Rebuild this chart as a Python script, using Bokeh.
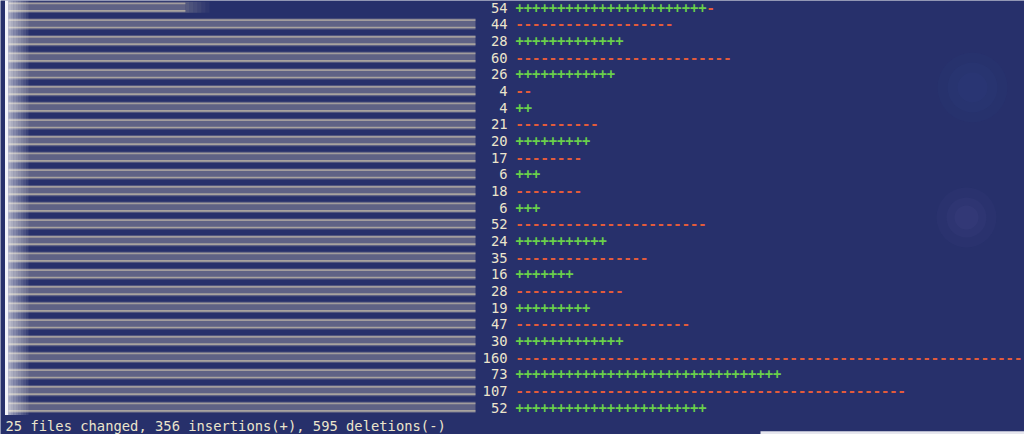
from bokeh.plotting import figure
from bokeh.models import Range1d, ColumnDataSource
from bokeh.core.properties import value
from bokeh.embed import file_html
from bokeh.resources import INLINE

# ---- data (git diff --stat) ----
insertions = [52, 0, 28, 0, 26, 0, 4, 0, 20, 0, 6, 0, 6, 0, 24, 0, 16, 0, 19, 0, 30, 0, 73, 0, 52]
deletions = [2, 44, 0, 60, 0, 4, 0, 21, 0, 17, 0, 18, 0, 52, 0, 35, 0, 28, 0, 47, 0, 160, 0, 107, 0]
plus_marks = [23, 0, 13, 0, 12, 0, 2, 0, 9, 0, 3, 0, 3, 0, 11, 0, 7, 0, 9, 0, 13, 0, 32, 0, 23]
# marks visible in the window (the 160-line row runs to the right edge)
minus_marks = [1, 19, 0, 26, 0, 2, 0, 10, 0, 8, 0, 8, 0, 23, 0, 16, 0, 13, 0, 21, 0, 61, 0, 47, 0]
name_extent = [185] + [475] * 24   # blurred file-name column extent

n_files = len(insertions)
changes = [a + b for a, b in zip(insertions, deletions)]
rows = list(range(n_files))

# ---- style ----
BG = "#27306b"
FONT = value("DejaVu Sans Mono")
FSIZE = "13.8px"
NUM_COLOR = "#ece5cc"
PLUS_COLOR = "#6ad04a"
MINUS_COLOR = "#e35b3a"
NUM_RIGHT = 507
MARK_LEFT = 515
NBSP = "\u00a0"

p = figure(width=1024, height=434, output_backend="svg", toolbar_location=None,
           x_range=Range1d(0, 1024), y_range=Range1d(25.62, -0.42),
           min_border=0, background_fill_color=BG, border_fill_color=BG)
p.axis.visible = False
p.grid.visible = False
p.outline_line_color = None

# soft glows on the right
for r, a in [(70, 0.06), (50, 0.07), (30, 0.08)]:
    p.scatter([972], [4.8], size=r, color="#3b4f96", alpha=a, line_color=None)
for r, a in [(60, 0.05), (40, 0.07), (24, 0.08)]:
    p.scatter([966], [12.6], size=r, color="#6a6aa8", alpha=a, line_color=None)

# blurred file names
band = ColumnDataSource(dict(
    left=[8] * n_files, right=name_extent,
    top=[r - 0.34 for r in rows], bottom=[r + 0.32 for r in rows]))
p.quad(left="left", right="right", top="top", bottom="bottom", source=band,
       fill_color="#8e8d9a", fill_alpha=0.55, line_color=None)
for off, a in [(-0.24, 0.55), (0.2, 0.6)]:
    p.segment(x0=[8] * n_files, x1=name_extent, y0=[r + off for r in rows],
              y1=[r + off for r in rows], line_color="#d8ceb0", line_alpha=a, line_width=1.6)
# fade at the end of the first (shorter) name
for k in range(6):
    x0 = name_extent[0] + k * 4
    p.quad(left=x0, right=x0 + 4, top=-0.34, bottom=0.32,
           fill_color="#8e8d9a", fill_alpha=0.45 - k * 0.075, line_color=None)
# left edge glow
for k in range(8):
    p.quad(left=8 + k * 2.5, right=10.5 + k * 2.5, top=-0.45, bottom=24.45,
           fill_color="#ffffff", fill_alpha=0.55 - k * 0.065, line_color=None)
p.quad(left=4.5, right=8, top=-0.45, bottom=24.45, fill_color="#f2f2f8", line_color=None)

# change counts
p.text(x=[NUM_RIGHT] * n_files, y=rows, text=[str(c) for c in changes],
       text_font=FONT, text_font_size=FSIZE, text_color=NUM_COLOR,
       text_align="right", text_baseline="middle")

# +/- histogram marks
p.text(x=[MARK_LEFT] * n_files, y=rows, text=["+" * n for n in plus_marks],
       text_font=FONT, text_font_size=FSIZE, text_font_style="bold", text_color=PLUS_COLOR,
       text_align="left", text_baseline="middle")
p.text(x=[MARK_LEFT] * n_files, y=rows,
       text=[NBSP * a + "-" * b for a, b in zip(plus_marks, minus_marks)],
       text_font=FONT, text_font_size=FSIZE, text_font_style="bold", text_color=MINUS_COLOR,
       text_align="left", text_baseline="middle")

# summary line
summary = f"{n_files} files changed, {sum(insertions)} insertions(+), {sum(deletions)} deletions(-)"
p.text(x=[5], y=[n_files + 0.08], text=[summary], text_font=FONT, text_font_size=FSIZE,
       text_color=NUM_COLOR, text_align="left", text_baseline="middle")

# light strip bottom right
p.quad(left=760, right=1024, top=25.42, bottom=25.62, fill_color="#e6e6ee", line_color=None)

open("out.html", "w").write(file_html(p, INLINE))
